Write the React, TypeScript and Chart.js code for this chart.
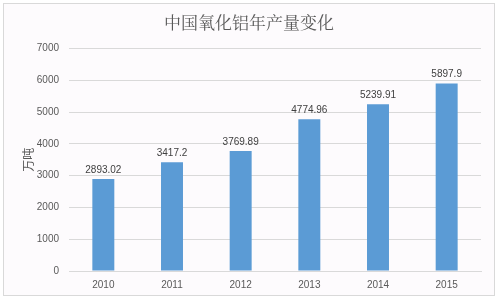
import React, { useEffect, useRef } from "react";
import { Chart, registerables } from "chart.js";

Chart.register(...registerables);

const categories = ["2010", "2011", "2012", "2013", "2014", "2015"];
const production = [2893.02, 3417.2, 3769.89, 4774.96, 5239.91, 5897.9];
const valueLabels = ["2893.02", "3417.2", "3769.89", "4774.96", "5239.91", "5897.9"];
const titleText = "中国氧化铝年产量变化";
const yAxisTitle = "万吨";

const labelPlugin = {
  id: "barLabels",
  afterDatasetsDraw(chart: any) {
    const ctx = chart.ctx;
    const meta = chart.getDatasetMeta(0);
    ctx.save();
    ctx.font = "10px 'Liberation Sans', Arial, sans-serif";
    ctx.fillStyle = "#404040";
    ctx.textAlign = "center";
    ctx.textBaseline = "bottom";
    meta.data.forEach((bar: any, i: number) => {
      ctx.fillText(valueLabels[i], bar.x, bar.y - 4);
    });
    ctx.restore();
  },
};

export default function App() {
  const ref = useRef<HTMLCanvasElement>(null);
  useEffect(() => {
    document.body.style.margin = "0";
    const chart = new Chart(ref.current!, {
      type: "bar",
      data: {
        labels: categories,
        datasets: [
          {
            data: production,
            backgroundColor: "#5b9bd5",
            categoryPercentage: 1,
            barPercentage: 0.32,
          },
        ],
      },
      options: {
        responsive: false,
        animation: false,
        layout: { padding: { top: 7, right: 19, bottom: 2, left: 17 } },
        plugins: {
          legend: { display: false },
          tooltip: { enabled: false },
          title: {
            display: true,
            text: titleText,
            color: "#595959",
            font: { family: "'Noto Serif CJK SC', 'Noto Sans CJK SC', serif", size: 17, weight: "normal" },
            padding: { top: 5, bottom: 16 },
          },
        },
        scales: {
          x: {
            grid: { display: false, drawTicks: false },
            border: { color: "#d9d9d9" },
            ticks: {
              color: "#595959",
              font: { family: "'Liberation Sans', Arial, sans-serif", size: 10 },
              padding: 8,
            },
          },
          y: {
            min: 0,
            max: 7000,
            grid: { color: "#d9d9d9", drawTicks: false },
            border: { display: false },
            ticks: {
              stepSize: 1000,
              color: "#595959",
              font: { family: "'Liberation Sans', Arial, sans-serif", size: 10 },
              padding: 10,
              callback: (v: any) => String(v),
            },
            title: {
              display: true,
              text: yAxisTitle,
              color: "#595959",
              font: { family: "'Noto Sans CJK SC', sans-serif", size: 12 },
              padding: 4,
            },
            afterFit(scale: any) {
              scale.width = 52;
            },
          },
        },
      },
      plugins: [labelPlugin],
    });
    return () => chart.destroy();
  }, []);
  return (
    <div
      style={{
        position: "absolute",
        left: 0,
        top: 0,
        width: 500,
        height: 301,
        background: "#ffffff",
      }}
    >
      <div
        style={{
          position: "absolute",
          left: 3,
          top: 3,
          width: 492,
          height: 293,
          border: "1px solid #d9d9d9",
          background: "#fdfbfd",
          boxSizing: "border-box",
        }}
      />
      <canvas ref={ref} width={500} height={301} style={{ position: "absolute", left: 0, top: 0 }} />
    </div>
  );
}
